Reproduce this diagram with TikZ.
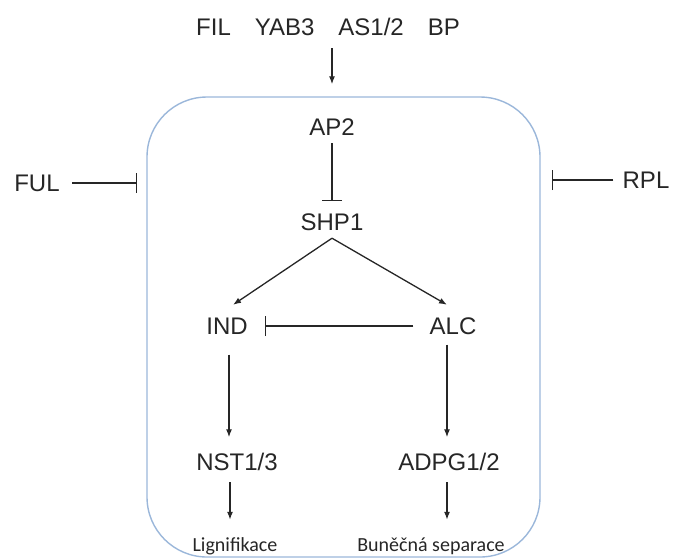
\documentclass[tikz,border=0pt]{standalone}
\usepackage{fontspec}
\setmainfont{Liberation Sans}
\newfontfamily\labelfont{Carlito}
\usetikzlibrary{arrows.meta}
\usetikzlibrary{positioning}
\definecolor{cellblue}{RGB}{155,183,218}
\definecolor{ink}{RGB}{38,38,38}
\begin{document}
\begin{tikzpicture}[x=1pt,y=-1pt,on grid,>={Latex[length=8pt,width=6pt]},
    gene/.style={font=\fontsize{24}{28}\selectfont,text=ink,inner sep=0pt,text height=17pt,text depth=0pt},
    process/.style={font=\labelfont\fontsize{20}{24}\selectfont,text=ink,inner sep=0pt,text height=13pt,text depth=0pt},
    cell/.style={draw=cellblue,line width=1.4pt,rounded corners=60pt,minimum width=393pt,minimum height=460pt,inner sep=0pt},
    every edge/.style={draw=ink,line width=1.3pt},
    inhib/.style={-{Bar[width=20pt,line width=1.3pt]}}]
    \useasboundingbox (0,0) rectangle (674,558);
    \node[cell] (cell) at (343.5,327) {};
    \node[gene] (ap2) at (332,127) {AP2};
    \node[gene] (shp1) [below=95pt of ap2] {SHP1};
    \node[gene] (ind) [below left=104pt and 105pt of shp1] {IND};
    \node[gene] (alc) [below right=104pt and 121pt of shp1] {ALC};
    \node[gene] (nst) [below right=136pt and 10pt of ind] {NST1/3};
    \node[gene] (adpg) [below left=136pt and 4pt of alc] {ADPG1/2};
    \node[process] (lig) [below left=83pt and 2pt of nst] {Lignifikace};
    \node[process] (sep) [below left=83pt and 18pt of adpg] {Buněčná separace};
    \node[gene] (regs) [above left=100pt and 4pt of ap2] {FIL\quad YAB3\quad AS1/2\quad BP};
    \node[gene] (ful) at (37,183) {FUL};
    \node[gene] (rpl) at (646,180) {RPL};
    % activation
    \path[->]
    (regs.south -| ap2) edge[shorten <=12.5pt,shorten >=12pt] (ap2 |- cell.north)
    ([yshift=-7.5pt]shp1.south) edge ([xshift=6pt,yshift=12.5pt]ind.north)
    ([yshift=-7.5pt]shp1.south) edge ([xshift=-6pt,yshift=12.5pt]alc.north)
    ([xshift=2pt]ind.south) edge[shorten <=20pt,shorten >=16pt] ([xshift=2pt]ind.south |- nst.north)
    ([xshift=-6pt]alc.south) edge[shorten <=10pt,shorten >=16pt] ([xshift=-6pt]alc.south |- adpg.north)
    ([xshift=-7pt]nst.south) edge[shorten <=11.5pt,shorten >=18.5pt] ([xshift=-7pt]nst.south |- lig.north)
    ([xshift=-2pt]adpg.south) edge[shorten <=11.5pt,shorten >=18.5pt] ([xshift=-2pt]adpg.south |- sep.north);
    % repression
    \path[inhib]
    (ap2) edge[shorten <=7.5pt,shorten >=12.5pt] (shp1)
    (alc) edge[shorten <=16pt,shorten >=17pt] (ind)
    (ful) edge[shorten <=12.5pt,shorten >=9pt] (ful -| cell.west)
    (rpl) edge[shorten <=9pt,shorten >=11pt] (rpl -| cell.east);
\end{tikzpicture}
\end{document}
